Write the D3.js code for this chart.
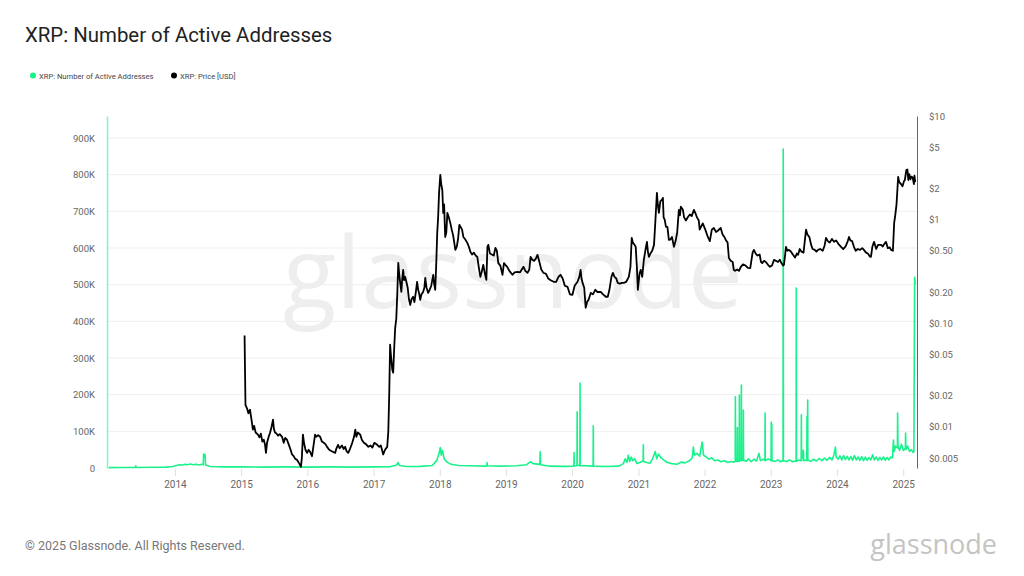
<!DOCTYPE html>
<html><head><meta charset="utf-8">
<script src="https://cdn.jsdelivr.net/npm/d3@7"></script>
<style>
body{margin:0;background:#fff;}
svg{display:block;font-family:Roboto,"Open Sans",sans-serif;}
</style>
</head><body>
<svg id="chart" width="1024" height="576"></svg>
<script>
// ---------- data ----------
const yearTicks = ["2014","2015","2016","2017","2018","2019","2020","2021","2022","2023","2024","2025"];
const aaTicks = [0,100,200,300,400,500,600,700,800,900];               // thousands
const aaTickLabels = ["0","100K","200K","300K","400K","500K","600K","700K","800K","900K"];
const priceTicks = [0.005,0.01,0.02,0.05,0.1,0.2,0.5,1,2,5,10];
const priceTickLabels = ["$0.005","$0.01","$0.02","$0.05","$0.10","$0.20","$0.50","$1","$2","$5","$10"];

// XRP active addresses (thousands)
const activeAddresses = [
["2012-12-31",1],["2013-03-01",1.2],["2013-05-28",1.5],["2013-05-30",6],["2013-06-01",1.5],["2013-09-01",2],["2013-11-15",2.5],["2013-12-20",4],
["2014-01-10",7],["2014-01-25",9],["2014-02-10",8],["2014-02-25",10],["2014-03-12",9],["2014-03-28",11],["2014-04-12",9],["2014-04-28",10],["2014-05-14",8],["2014-05-30",10],["2014-06-06",9],["2014-06-08",38],["2014-06-12",30],["2014-06-16",37],["2014-06-19",8],["2014-07-15",4],["2014-10-01",3],
["2015-01-15",3],["2015-05-01",2.5],["2015-09-01",3],["2016-01-01",2.5],["2016-05-01",3],["2016-09-01",2.5],["2017-01-01",3],["2017-04-01",3.5],["2017-05-08",8],["2017-05-16",15],["2017-05-24",7],["2017-07-01",4],["2017-09-15",4.5],["2017-11-20",7],["2017-12-15",20],["2017-12-28",40],
["2018-01-04",56],["2018-01-09",35],["2018-01-16",48],["2018-01-25",25],["2018-02-10",16],["2018-03-05",10],["2018-04-15",7],["2018-06-15",6],["2018-09-17",5],["2018-09-19",15],["2018-09-21",6],["2018-12-01",5],
["2019-03-01",6],["2019-04-25",9],["2019-05-16",17],["2019-06-01",12],["2019-07-07",10],["2019-07-09",44],["2019-07-11",9],["2019-09-01",5],["2019-11-15",4.5],
["2020-01-11",5],["2020-01-12",42],["2020-01-13",6],["2020-01-28",6],["2020-01-29",153],["2020-01-30",8],["2020-02-13",6],["2020-02-14",232],["2020-02-15",7],["2020-04-26",5],["2020-04-27",115],["2020-04-28",5],["2020-07-01",4],["2020-09-15",5],
["2020-10-10",12],["2020-10-20",25],["2020-10-30",15],["2020-11-06",35],["2020-11-14",18],["2020-11-22",30],["2020-12-01",20],["2020-12-12",25],["2020-12-24",12],
["2021-01-10",15],["2021-01-27",20],["2021-01-28",63],["2021-01-29",18],["2021-02-15",15],["2021-03-05",13],["2021-03-20",25],["2021-04-04",45],["2021-04-12",25],["2021-04-22",38],["2021-05-05",28],["2021-05-20",22],["2021-06-10",15],["2021-07-05",12],["2021-08-01",10],["2021-08-25",16],["2021-09-15",14],["2021-10-10",20],["2021-10-25",28],["2021-10-31",57],["2021-11-06",35],["2021-11-20",40],["2021-12-05",32],["2021-12-19",71],["2021-12-26",35],
["2022-01-10",30],["2022-01-25",24],["2022-02-10",28],["2022-02-25",20],["2022-03-15",22],["2022-04-01",17],["2022-04-20",20],["2022-05-10",15],["2022-05-30",18],["2022-06-12",16],["2022-06-19",18],["2022-06-20",194],["2022-06-21",20],["2022-06-30",18],["2022-07-01",110],["2022-07-02",20],["2022-07-11",18],["2022-07-12",199],["2022-07-13",22],["2022-07-22",20],["2022-07-23",226],["2022-07-24",24],["2022-08-02",20],["2022-08-03",158],["2022-08-04",22],["2022-08-18",18],["2022-09-01",25],["2022-09-15",17],["2022-10-01",24],["2022-10-15",19],["2022-10-28",40],["2022-11-05",20],["2022-11-20",24],["2022-11-30",20],["2022-12-01",150],["2022-12-02",20],["2022-12-18",25],
["2023-01-03",20],["2023-01-04",125],["2023-01-05",22],["2023-01-07",120],["2023-01-08",20],["2023-01-25",18],["2023-02-10",22],["2023-02-25",17],["2023-03-10",20],["2023-03-11",870],["2023-03-12",20],["2023-03-28",18],["2023-04-15",22],["2023-05-01",17],["2023-05-21",20],["2023-05-22",491],["2023-05-23",18],["2023-06-05",22],["2023-06-18",20],["2023-06-19",145],["2023-06-20",20],["2023-06-30",49],["2023-07-02",20],["2023-07-19",22],["2023-07-20",140],["2023-07-21",20],["2023-07-24",185],["2023-07-25",22],["2023-08-10",18],["2023-08-25",24],["2023-09-10",19],["2023-09-25",26],["2023-10-10",20],["2023-10-25",27],["2023-11-08",21],["2023-11-22",29],["2023-12-05",22],["2023-12-15",35],["2023-12-24",57],["2023-12-28",30],
["2024-01-08",24],["2024-01-18",33],["2024-01-28",22],["2024-02-07",34],["2024-02-17",23],["2024-02-27",32],["2024-03-08",22],["2024-03-18",31],["2024-03-28",21],["2024-04-07",34],["2024-04-17",22],["2024-04-27",30],["2024-05-07",21],["2024-05-17",31],["2024-05-27",20],["2024-06-06",30],["2024-06-16",21],["2024-06-26",29],["2024-07-06",22],["2024-07-16",36],["2024-07-26",22],["2024-08-05",30],["2024-08-15",21],["2024-08-25",29],["2024-09-04",22],["2024-09-14",30],["2024-09-24",21],["2024-10-04",29],["2024-10-14",22],["2024-10-24",30],["2024-11-03",28],["2024-11-08",76],["2024-11-12",45],["2024-11-20",60],["2024-11-30",55],["2024-12-01",150],["2024-12-03",60],["2024-12-12",48],["2024-12-22",65],
["2025-01-02",48],["2025-01-13",55],["2025-01-14",95],["2025-01-16",50],["2025-01-25",60],["2025-02-05",45],["2025-02-15",50],["2025-02-25",42],["2025-03-01",45],["2025-03-03",310],["2025-03-05",520],["2025-03-08",500]
];

// XRP price (USD)
const price = [
["2015-01-20",0.076],["2015-01-23",0.030],["2015-01-25",0.0163],["2015-02-03",0.0150],["2015-02-10",0.0135],["2015-02-19",0.0146],["2015-02-27",0.0118],["2015-03-07",0.0094],["2015-03-14",0.0102],["2015-03-22",0.0088],["2015-04-04",0.0084],["2015-04-12",0.0079],["2015-04-20",0.0086],["2015-04-28",0.0072],["2015-05-06",0.0075],["2015-05-13",0.0067],["2015-05-18",0.0056],["2015-05-24",0.0070],["2015-06-02",0.0080],["2015-06-10",0.0088],["2015-06-18",0.0100],["2015-06-26",0.0117],["2015-07-01",0.0095],["2015-07-07",0.0088],["2015-07-15",0.0086],["2015-07-24",0.0082],["2015-08-02",0.0085],["2015-08-15",0.0080],["2015-08-24",0.0070],["2015-09-01",0.0078],["2015-09-11",0.0075],["2015-09-20",0.0068],["2015-10-01",0.0060],["2015-10-09",0.0054],["2015-10-18",0.0052],["2015-10-27",0.0049],["2015-11-05",0.0048],["2015-11-15",0.0045],["2015-11-27",0.0041],["2015-12-02",0.0050],["2015-12-08",0.0084],["2015-12-14",0.0070],["2015-12-22",0.0060],["2015-12-31",0.0056],
["2016-01-08",0.0060],["2016-01-17",0.0057],["2016-01-27",0.0052],["2016-02-04",0.0065],["2016-02-13",0.0084],["2016-02-20",0.0080],["2016-03-01",0.0083],["2016-03-12",0.0080],["2016-03-22",0.0072],["2016-04-01",0.0070],["2016-04-10",0.0068],["2016-04-19",0.0064],["2016-05-01",0.0060],["2016-05-15",0.0058],["2016-06-03",0.0056],["2016-06-10",0.0062],["2016-06-19",0.0067],["2016-06-28",0.0062],["2016-07-10",0.0066],["2016-07-20",0.0061],["2016-07-28",0.0064],["2016-08-05",0.0058],["2016-08-14",0.0056],["2016-08-25",0.0062],["2016-09-05",0.0070],["2016-09-15",0.0080],["2016-09-22",0.0094],["2016-09-28",0.0080],["2016-10-06",0.0088],["2016-10-19",0.0084],["2016-10-28",0.0075],["2016-11-08",0.0070],["2016-11-20",0.0068],["2016-12-03",0.0064],["2016-12-15",0.0066],["2016-12-25",0.0063],
["2017-01-05",0.0070],["2017-01-21",0.0067],["2017-02-01",0.0064],["2017-02-10",0.0066],["2017-02-23",0.0054],["2017-03-05",0.0060],["2017-03-17",0.0064],["2017-03-23",0.0090],["2017-03-28",0.020],["2017-04-02",0.062],["2017-04-06",0.050],["2017-04-14",0.0356],["2017-04-19",0.0333],["2017-04-25",0.060],["2017-04-30",0.090],["2017-05-06",0.11],["2017-05-12",0.20],["2017-05-17",0.382],["2017-05-22",0.30],["2017-05-27",0.25],["2017-06-03",0.201],["2017-06-08",0.27],["2017-06-13",0.327],["2017-06-18",0.26],["2017-06-24",0.28],["2017-07-01",0.25],["2017-07-08",0.22],["2017-07-15",0.17],["2017-07-22",0.15],["2017-07-29",0.17],["2017-08-07",0.18],["2017-08-14",0.16],["2017-08-22",0.20],["2017-08-29",0.251],["2017-09-04",0.21],["2017-09-10",0.19],["2017-09-15",0.168],["2017-09-22",0.19],["2017-10-01",0.20],["2017-10-08",0.22],["2017-10-13",0.274],["2017-10-20",0.22],["2017-10-29",0.196],["2017-11-06",0.21],["2017-11-15",0.23],["2017-11-26",0.293],["2017-12-01",0.24],["2017-12-07",0.21],["2017-12-12",0.35],["2017-12-18",0.745],["2017-12-23",1.06],["2017-12-28",1.8],
["2018-01-04",2.70],["2018-01-09",2.2],["2018-01-15",1.93],["2018-01-20",1.16],["2018-01-25",1.4],["2018-01-31",0.68],["2018-02-06",0.75],["2018-02-12",1.16],["2018-02-20",1.05],["2018-02-28",0.93],["2018-03-08",0.80],["2018-03-16",0.70],["2018-03-28",0.51],["2018-04-05",0.55],["2018-04-12",0.65],["2018-04-19",0.89],["2018-04-26",0.85],["2018-05-04",0.80],["2018-05-11",0.68],["2018-05-20",0.65],["2018-06-02",0.596],["2018-06-10",0.55],["2018-06-19",0.489],["2018-06-28",0.46],["2018-07-08",0.48],["2018-07-18",0.45],["2018-07-27",0.437],["2018-08-05",0.34],["2018-08-13",0.28],["2018-08-20",0.31],["2018-08-29",0.366],["2018-09-07",0.30],["2018-09-15",0.262],["2018-09-21",0.55],["2018-09-26",0.57],["2018-10-05",0.47],["2018-10-18",0.457],["2018-10-26",0.45],["2018-11-04",0.533],["2018-11-12",0.50],["2018-11-20",0.38],["2018-12-01",0.36],["2018-12-13",0.293],["2018-12-21",0.38],["2018-12-29",0.366],
["2019-01-08",0.35],["2019-01-20",0.32],["2019-02-06",0.293],["2019-02-18",0.31],["2019-03-06",0.313],["2019-03-20",0.31],["2019-04-08",0.35],["2019-04-18",0.32],["2019-04-30",0.306],["2019-05-10",0.33],["2019-05-17",0.437],["2019-05-26",0.41],["2019-06-05",0.40],["2019-06-15",0.42],["2019-06-24",0.457],["2019-07-03",0.40],["2019-07-15",0.33],["2019-07-27",0.306],["2019-08-10",0.30],["2019-08-22",0.27],["2019-09-05",0.26],["2019-09-21",0.251],["2019-10-05",0.25],["2019-10-18",0.28],["2019-10-29",0.293],["2019-11-10",0.27],["2019-11-22",0.23],["2019-12-07",0.224],["2019-12-20",0.19],
["2020-01-03",0.188],["2020-01-15",0.23],["2020-01-31",0.251],["2020-02-10",0.28],["2020-02-17",0.327],["2020-02-22",0.27],["2020-02-28",0.245],["2020-03-08",0.22],["2020-03-16",0.141],["2020-03-24",0.16],["2020-04-02",0.17],["2020-04-13",0.196],["2020-04-25",0.19],["2020-05-08",0.21],["2020-05-20",0.20],["2020-06-07",0.201],["2020-06-20",0.19],["2020-07-05",0.18],["2020-07-16",0.18],["2020-07-25",0.21],["2020-08-05",0.28],["2020-08-13",0.306],["2020-08-22",0.28],["2020-09-01",0.27],["2020-09-09",0.245],["2020-09-20",0.24],["2020-10-01",0.245],["2020-10-12",0.245],["2020-10-25",0.25],["2020-11-09",0.28],["2020-11-18",0.35],["2020-11-25",0.667],["2020-12-01",0.60],["2020-12-08",0.58],["2020-12-17",0.546],["2020-12-23",0.36],["2020-12-29",0.21],
["2021-01-07",0.30],["2021-01-14",0.327],["2021-01-22",0.28],["2021-01-31",0.408],["2021-02-08",0.50],["2021-02-17",0.61],["2021-02-23",0.48],["2021-02-28",0.437],["2021-03-08",0.47],["2021-03-18",0.50],["2021-03-28",0.57],["2021-04-05",1.0],["2021-04-13",1.81],["2021-04-18",1.40],["2021-04-24",1.16],["2021-05-02",1.50],["2021-05-10",1.55],["2021-05-16",1.62],["2021-05-20",1.05],["2021-05-26",1.00],["2021-06-02",0.85],["2021-06-10",0.85],["2021-06-18",0.637],["2021-06-25",0.64],["2021-07-05",0.68],["2021-07-16",0.546],["2021-07-25",0.62],["2021-08-03",0.75],["2021-08-12",1.24],["2021-08-18",1.10],["2021-08-23",1.33],["2021-09-03",1.25],["2021-09-10",1.05],["2021-09-20",0.98],["2021-10-01",1.06],["2021-10-12",1.12],["2021-10-22",1.08],["2021-11-03",1.24],["2021-11-12",1.15],["2021-11-20",1.05],["2021-11-30",0.98],["2021-12-05",0.80],["2021-12-12",0.85],["2021-12-22",0.92],
["2022-01-05",0.80],["2022-01-19",0.68],["2022-01-30",0.62],["2022-02-10",0.80],["2022-02-21",0.83],["2022-03-05",0.76],["2022-03-15",0.78],["2022-03-31",0.83],["2022-04-10",0.72],["2022-04-20",0.68],["2022-04-28",0.637],["2022-05-08",0.60],["2022-05-15",0.427],["2022-05-25",0.40],["2022-06-05",0.39],["2022-06-11",0.327],["2022-06-18",0.32],["2022-06-30",0.33],["2022-07-10",0.32],["2022-07-20",0.35],["2022-08-01",0.37],["2022-08-15",0.36],["2022-08-28",0.342],["2022-09-10",0.34],["2022-09-23",0.48],["2022-09-30",0.51],["2022-10-10",0.47],["2022-10-20",0.45],["2022-11-01",0.46],["2022-11-08",0.391],["2022-11-15",0.38],["2022-11-25",0.40],["2022-12-05",0.39],["2022-12-17",0.366],["2022-12-28",0.35],
["2023-01-08",0.36],["2023-01-19",0.408],["2023-01-30",0.40],["2023-02-10",0.39],["2023-02-20",0.41],["2023-03-01",0.38],["2023-03-10",0.36],["2023-03-15",0.366],["2023-03-21",0.45],["2023-03-26",0.546],["2023-04-03",0.50],["2023-04-12",0.51],["2023-04-23",0.489],["2023-05-03",0.46],["2023-05-15",0.43],["2023-05-25",0.47],["2023-06-01",0.457],["2023-06-10",0.52],["2023-06-20",0.49],["2023-07-01",0.48],["2023-07-13",0.75],["2023-07-15",0.80],["2023-07-22",0.72],["2023-08-02",0.68],["2023-08-12",0.57],["2023-08-20",0.52],["2023-09-01",0.51],["2023-09-10",0.49],["2023-09-19",0.51],["2023-10-01",0.52],["2023-10-15",0.50],["2023-10-25",0.56],["2023-11-02",0.667],["2023-11-12",0.62],["2023-11-22",0.60],["2023-12-05",0.65],["2023-12-16",0.61],["2023-12-28",0.63],
["2024-01-10",0.58],["2024-01-24",0.546],["2024-02-05",0.52],["2024-02-18",0.55],["2024-03-01",0.62],["2024-03-08",0.68],["2024-03-15",0.63],["2024-03-25",0.62],["2024-04-04",0.546],["2024-04-14",0.50],["2024-04-25",0.52],["2024-05-08",0.51],["2024-05-20",0.53],["2024-05-29",0.51],["2024-06-10",0.48],["2024-06-20",0.47],["2024-07-01",0.44],["2024-07-07",0.437],["2024-07-15",0.55],["2024-07-24",0.61],["2024-08-05",0.52],["2024-08-15",0.57],["2024-09-01",0.57],["2024-09-10",0.55],["2024-09-18",0.58],["2024-09-28",0.61],["2024-10-08",0.53],["2024-10-18",0.54],["2024-10-26",0.51],["2024-11-05",0.50],["2024-11-12",0.93],["2024-11-18",1.10],["2024-11-25",1.40],["2024-12-04",2.58],["2024-12-10",2.30],["2024-12-20",2.20],["2024-12-28",2.10],
["2025-01-05",2.35],["2025-01-10",2.40],["2025-01-18",3.01],["2025-01-24",3.05],["2025-01-29",2.41],["2025-02-03",2.75],["2025-02-10",2.45],["2025-02-15",2.60],["2025-02-22",2.55],["2025-03-01",2.20],["2025-03-04",2.65],["2025-03-08",2.3]
];

// ---------- chart ----------
const GREEN = "#19f28b";
const parse = d3.utcParse("%Y-%m-%d");
const svg = d3.select("#chart");

const x = d3.scaleUtc().domain([parse("2012-12-22"), parse("2025-03-18")]).range([107, 917]);
const yAA = d3.scaleLinear().domain([0, 960]).range([468, 116]);
const yP = d3.scaleLog().domain([0.004, 10]).range([468, 116]);

// title & legend
svg.append("text").attr("x", 25).attr("y", 42).attr("font-size", 20.4).attr("fill", "#222").text("XRP: Number of Active Addresses");
svg.append("circle").attr("cx", 33).attr("cy", 75.5).attr("r", 3).attr("fill", GREEN);
svg.append("text").attr("x", 39).attr("y", 78.5).attr("font-size", 7.6).attr("fill", "#444").text("XRP: Number of Active Addresses");
svg.append("circle").attr("cx", 174).attr("cy", 75.5).attr("r", 3).attr("fill", "#000");
svg.append("text").attr("x", 180).attr("y", 78.5).attr("font-size", 7.6).attr("fill", "#444").text("XRP: Price [USD]");

// watermark
svg.append("text").attr("x", 513).attr("y", 308).attr("text-anchor", "middle")
  .attr("font-size", 98).attr("font-family", "'Open Sans', sans-serif").attr("font-weight", 400)
  .attr("fill", "#eeeeee").text("glassnode");

// gridlines
svg.append("g").selectAll("line").data(aaTicks.filter(d => d > 0)).join("line")
  .attr("x1", 107).attr("x2", 917).attr("y1", d => yAA(d)).attr("y2", d => yAA(d))
  .attr("stroke", "#efefef").attr("stroke-width", 1);

// x axis
const xAxis = svg.append("g").attr("transform", "translate(0,469)")
  .call(d3.axisBottom(x).tickValues(yearTicks.map(y => parse(y + "-01-01"))).tickFormat(d3.utcFormat("%Y")).tickSize(7).tickPadding(5));
xAxis.select(".domain").remove();
xAxis.selectAll(".tick line").attr("stroke", "#e0e0e0");
xAxis.selectAll("text").attr("fill", "#666").attr("font-size", 10).attr("font-family", "Roboto, sans-serif");

// left axis
const lAxis = svg.append("g").attr("transform", "translate(107,0)")
  .call(d3.axisLeft(yAA).tickValues(aaTicks).tickFormat((d, i) => aaTickLabels[i]).tickSize(0).tickSizeOuter(0).tickPadding(12));
lAxis.select(".domain").attr("stroke", GREEN).attr("stroke-opacity", 0.55).attr("stroke-width", 1.5);
lAxis.selectAll("text").attr("fill", "#666").attr("font-size", 9.5).attr("font-family", "Roboto, sans-serif");

// right axis
const rAxis = svg.append("g").attr("transform", "translate(917,0)")
  .call(d3.axisRight(yP).tickValues(priceTicks).tickFormat((d, i) => priceTickLabels[i]).tickSize(0).tickSizeOuter(0).tickPadding(12));
rAxis.select(".domain").attr("stroke", "#666").attr("stroke-width", 1);
rAxis.selectAll("text").attr("fill", "#666").attr("font-size", 9.5).attr("font-family", "Roboto, sans-serif");

// active addresses line
svg.append("path").datum(activeAddresses)
  .attr("fill", "none").attr("stroke", GREEN).attr("stroke-width", 1.6).attr("stroke-linejoin", "round")
  .attr("d", d3.line().x(d => x(parse(d[0]))).y(d => yAA(d[1])));

// price line
svg.append("path").datum(price)
  .attr("fill", "none").attr("stroke", "#000").attr("stroke-width", 1.8).attr("stroke-linejoin", "round")
  .attr("d", d3.line().x(d => x(parse(d[0]))).y(d => yP(d[1])));

// footer
svg.append("text").attr("x", 25).attr("y", 550).attr("font-size", 12.5).attr("fill", "#777").text("© 2025 Glassnode. All Rights Reserved.");
svg.append("text").attr("x", 997).attr("y", 554).attr("text-anchor", "end").attr("font-size", 27)
  .attr("font-family", "'Open Sans', sans-serif").attr("font-weight", 400).attr("fill", "#c4c4c4").text("glassnode");
</script>
</body></html>
